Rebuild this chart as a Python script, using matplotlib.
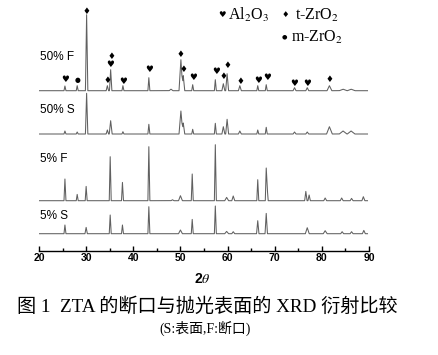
import numpy as np
import matplotlib
matplotlib.use('Agg')
import matplotlib.pyplot as plt

plt.rcParams['mathtext.fontset'] = 'stix'

# peak lists: 2theta, height (px above baseline), half base width (deg)
f50_pos = [25.5, 28.1, 30.1, 34.5, 35.2, 37.8, 43.3, 48.0, 50.1, 50.6, 52.6, 57.4, 59.1, 59.9, 62.6, 66.4, 68.2, 74.2, 76.9, 81.6, 84.5, 86.2]
f50_hts = [4.7, 5.0, 76.0, 5.0, 21.0, 5.0, 13.0, 1.5, 31.0, 15.0, 6.0, 11.0, 7.0, 17.0, 5.0, 5.0, 6.0, 3.0, 3.0, 5.0, 1.5, 1.5]
f50_wid = [0.2, 0.2, 0.25, 0.25, 0.25, 0.2, 0.2, 0.4, 0.4, 0.3, 0.2, 0.2, 0.3, 0.3, 0.3, 0.2, 0.2, 0.3, 0.3, 0.5, 0.8, 0.8]

s50_pos = [25.5, 28.1, 30.1, 34.5, 35.2, 37.8, 43.3, 50.1, 50.6, 52.6, 57.4, 59.1, 59.9, 62.6, 66.4, 68.2, 74.2, 76.9, 81.6, 84.5, 86.2]
s50_hts = [3.0, 2.0, 40.7, 4.0, 13.3, 2.3, 9.7, 23.0, 11.0, 4.7, 10.7, 7.3, 14.7, 3.0, 4.0, 6.7, 2.0, 2.0, 7.3, 3.0, 3.0]
s50_wid = [0.2, 0.2, 0.25, 0.25, 0.3, 0.2, 0.2, 0.4, 0.3, 0.2, 0.2, 0.3, 0.3, 0.3, 0.2, 0.2, 0.3, 0.3, 0.6, 0.8, 0.8]

f5_pos = [25.5, 28.1, 30.0, 35.1, 37.7, 43.3, 48.3, 50.0, 52.5, 57.4, 59.8, 61.2, 66.4, 68.2, 68.4, 76.6, 77.3, 80.7, 84.2, 86.3, 88.8]
f5_hts = [21.7, 6.3, 14.3, 44.0, 18.3, 54.0, 1.0, 5.0, 26.7, 56.0, 3.3, 4.7, 21.0, 32.7, 14.0, 9.3, 5.7, 2.7, 2.7, 2.3, 4.0]
f5_wid = [0.2, 0.2, 0.2, 0.2, 0.2, 0.2, 0.3, 0.4, 0.2, 0.2, 0.4, 0.3, 0.2, 0.2, 0.2, 0.25, 0.25, 0.3, 0.3, 0.3, 0.3]

s5_pos = [25.5, 30.0, 35.1, 37.7, 43.3, 50.0, 52.5, 57.4, 59.8, 61.2, 66.4, 68.2, 76.9, 80.7, 84.3, 86.3, 88.9]
s5_hts = [8.7, 6.3, 18.7, 8.7, 27.0, 3.7, 14.3, 27.7, 2.3, 2.0, 13.0, 20.3, 6.0, 3.0, 2.0, 2.0, 3.3]
s5_wid = [0.2, 0.25, 0.2, 0.2, 0.2, 0.4, 0.2, 0.2, 0.4, 0.3, 0.25, 0.25, 0.4, 0.4, 0.3, 0.3, 0.3]

labels = ['50% F', '50% S', '5% F', '5% S']

# phase markers above the 50% F trace: 2theta, height above baseline, phase
mk_pos = [25.5, 28.1, 30.1, 34.5, 35.2, 35.4, 37.8, 43.3, 50.1, 50.6, 52.7, 57.5, 59.1, 59.9, 62.7, 66.5, 68.4, 74.2, 76.9, 81.7]
mk_hts = [11.7, 10.4, 79.7, 10.0, 26.0, 34.5, 9.7, 20.7, 36.0, 21.4, 13.7, 19.7, 14.4, 25.4, 8.7, 10.0, 13.0, 7.4, 7.4, 11.4]
mk_phase = ['A', 'm', 't', 't', 'A', 't', 'A', 'A', 't', 't', 'A', 'A', 't', 't', 't', 'A', 'A', 'A', 'A', 't']

symbols = {'A': ('\u2665', 6.3), 't': ('\u2666', 6.3), 'm': ('\u25cf', 4.8)}

W, H = 439, 355
fig = plt.figure(figsize=(W / 100, H / 100), dpi=100)
ax_top_px, axis_px = 5, 250.5
ax = fig.add_axes([39 / W, 1 - axis_px / H, 330 / W, (axis_px - ax_top_px) / H])

offsets = [axis_px - 90.7, axis_px - 134.0, axis_px - 200.7, axis_px - 233.7]
traces = [(f50_pos, f50_hts, f50_wid), (s50_pos, s50_hts, s50_wid),
          (f5_pos, f5_hts, f5_wid), (s5_pos, s5_hts, s5_wid)]

grid = np.arange(20.0, 89.7, 0.02)
for (pos, hts, wid), off, lab in zip(traces, offsets, labels):
    y = np.zeros_like(grid)
    for p, h, w in zip(pos, hts, wid):
        y += np.interp(grid, [p - w, p, p + w], [0, h, 0])
    ax.plot(grid, y + off, color='#606060', lw=0.75)

for p, h, ph in zip(mk_pos, mk_hts, mk_phase):
    s, fs = symbols[ph]
    ax.text(p, h + offsets[0], s, fontsize=fs, ha='center', va='center', color='black',
            family='DejaVu Sans')

ax.set_xlim(20, 90)
ax.set_ylim(0, axis_px - ax_top_px)
ax.set_yticks([])
for side in ['left', 'right', 'top']:
    ax.spines[side].set_visible(False)
ax.spines['bottom'].set_linewidth(1.0)
ax.set_xticks(range(20, 91, 10))
ax.set_xticks(range(25, 90, 10), minor=True)
ax.tick_params(axis='x', which='major', direction='in', length=3.5, width=1, pad=2,
               labelsize=7.5)
ax.tick_params(axis='x', which='minor', direction='in', length=2, width=1)
for t in ax.get_xticklabels():
    t.set_fontweight('bold')
    t.set_family('Liberation Sans')

# trace labels
lab_y = [57, 110, 159, 216]
for lab, yy in zip(labels, lab_y):
    fig.text(40 / W, 1 - yy / H, lab, fontsize=8.5, family='Liberation Sans',
             ha='left', va='center')

# legend
fig.text(222.5 / W, 1 - 14.5 / H, '\u2665', fontsize=6, family='DejaVu Sans', ha='center', va='center')
fig.text(228 / W, 1 - 15 / H, 'Al$_2$O$_3$', fontsize=11.5, family='Liberation Serif', ha='left', va='center')
fig.text(285 / W, 1 - 14.5 / H, '\u2666', fontsize=6, family='DejaVu Sans', ha='center', va='center')
fig.text(295 / W, 1 - 15 / H, 't-ZrO$_2$', fontsize=11.5, family='Liberation Serif', ha='left', va='center')
fig.text(284 / W, 1 - 36.5 / H, '\u25cf', fontsize=4.5, family='DejaVu Sans', ha='center', va='center')
fig.text(291 / W, 1 - 37 / H, 'm-ZrO$_2$', fontsize=11.5, family='Liberation Serif', ha='left', va='center')

# axis title and caption
fig.text(202 / W, 1 - 279 / H, '2$\\theta$', fontsize=10, fontweight='bold', family='Liberation Sans',
         ha='center', va='center')
fig.text(207 / W, 1 - 307 / H, '图 1  ZTA 的断口与抛光表面的 XRD 衍射比较', fontsize=13.8,
         family=['Liberation Serif', 'Noto Sans CJK SC'], ha='center', va='center')
fig.text(205 / W, 1 - 328 / H, '(S:表面,F:断口)', fontsize=10,
         family=['Liberation Serif', 'Noto Sans CJK SC'], ha='center', va='center')

fig.savefig('out.png', dpi=100)
